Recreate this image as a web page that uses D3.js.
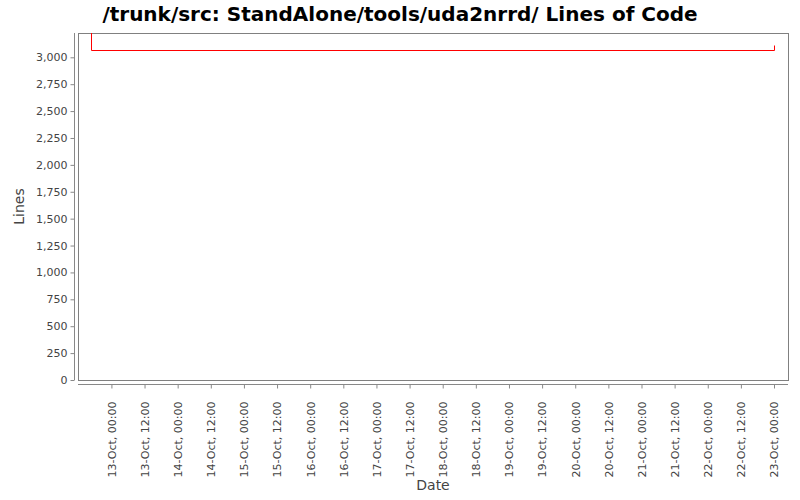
<!DOCTYPE html>
<html>
<head>
<meta charset="utf-8">
<script src="https://cdn.jsdelivr.net/npm/d3@7"></script>
<style>
  body { margin: 0; background: #fff; }
  text { font-family: "DejaVu Sans", sans-serif; }
</style>
</head>
<body>
<div id="chart"></div>
<script>
// data
const dates = ["2008-10-12T16:37", "2008-10-12T16:38", "2008-10-23T00:00"];
const lines = [3300, 3071, 3111];
const yTicks = [0, 250, 500, 750, 1000, 1250, 1500, 1750, 2000, 2250, 2500, 2750, 3000];
const xTickRange = ["2008-10-13T00:00", "2008-10-23T00:00"];
const xRange = ["2008-10-12T11:54", "2008-10-23T05:04"];
const yMax = 3226;

const width = 800, height = 500;
const margin = {top: 33, right: 12, bottom: 120, left: 78};

const parse = d3.utcParse("%Y-%m-%dT%H:%M");
const data = dates.map((d, i) => ({date: parse(d), value: lines[i]}));

const x = d3.scaleUtc()
    .domain(xRange.map(parse))
    .range([margin.left, width - margin.right]);

const y = d3.scaleLinear()
    .domain([0, yMax])
    .range([height - margin.bottom, margin.top]);

const xTicks = d3.utcHour.every(12).range(parse(xTickRange[0]), d3.utcMinute.offset(parse(xTickRange[1]), 1));

const svg = d3.select("#chart").append("svg")
    .attr("width", width)
    .attr("height", height);

// title
svg.append("text")
    .attr("x", 400)
    .attr("y", 21)
    .attr("text-anchor", "middle")
    .attr("font-size", 20)
    .attr("font-weight", "bold")
    .attr("fill", "#000")
    .text("/trunk/src: StandAlone/tools/uda2nrrd/ Lines of Code");

// plot outline
svg.append("rect")
    .attr("x", margin.left + 0.5)
    .attr("y", margin.top + 0.5)
    .attr("width", width - margin.right - margin.left)
    .attr("height", height - margin.bottom - margin.top)
    .attr("fill", "#fff")
    .attr("stroke", "#808080");

svg.append("clipPath").attr("id", "clip")
  .append("rect")
    .attr("x", margin.left)
    .attr("y", margin.top)
    .attr("width", width - margin.right - margin.left)
    .attr("height", height - margin.bottom - margin.top);

// y axis
const yAxis = svg.append("g")
    .attr("transform", `translate(${margin.left - 3.5},0)`)
    .call(d3.axisLeft(y).tickValues(yTicks).tickSize(4).tickPadding(3).tickFormat(d3.format(",")));
yAxis.select(".domain").attr("stroke", "#888").attr("d", `M0,${margin.top}V${height - margin.bottom}`);
yAxis.selectAll(".tick line").attr("stroke", "#888");
yAxis.selectAll(".tick text").attr("fill", "#444").attr("font-size", 11);

// x axis
const xAxis = svg.append("g")
    .attr("transform", `translate(0,${height - margin.bottom + 4.5})`)
    .call(d3.axisBottom(x).tickValues(xTicks).tickSize(4).tickFormat(d3.utcFormat("%d-%b, %H:%M")));
xAxis.select(".domain").attr("stroke", "#888").attr("d", `M${margin.left},0H${width - margin.right}`);
xAxis.selectAll(".tick line").attr("stroke", "#888");
xAxis.selectAll(".tick text")
    .attr("fill", "#444")
    .attr("font-size", 11)
    .attr("text-anchor", "end")
    .attr("transform", "rotate(-90)")
    .attr("x", -17)
    .attr("y", 0)
    .attr("dy", "0.35em");

// axis labels
svg.append("text")
    .attr("x", (margin.left + width - margin.right) / 2)
    .attr("y", 490)
    .attr("text-anchor", "middle")
    .attr("font-size", 14)
    .attr("fill", "#444")
    .text("Date");

svg.append("text")
    .attr("transform", `translate(24,${(margin.top + height - margin.bottom) / 2}) rotate(-90)`)
    .attr("text-anchor", "middle")
    .attr("font-size", 14)
    .attr("fill", "#444")
    .text("Lines");

// step line
const line = d3.line()
    .curve(d3.curveStepAfter)
    .x(d => Math.round(x(d.date)) + 0.5)
    .y(d => Math.round(y(d.value)) + 0.5);

svg.append("path")
    .datum(data)
    .attr("clip-path", "url(#clip)")
    .attr("fill", "none")
    .attr("stroke", "#ff0000")
    .attr("stroke-width", 1)
    .attr("d", line);
</script>
</body>
</html>
